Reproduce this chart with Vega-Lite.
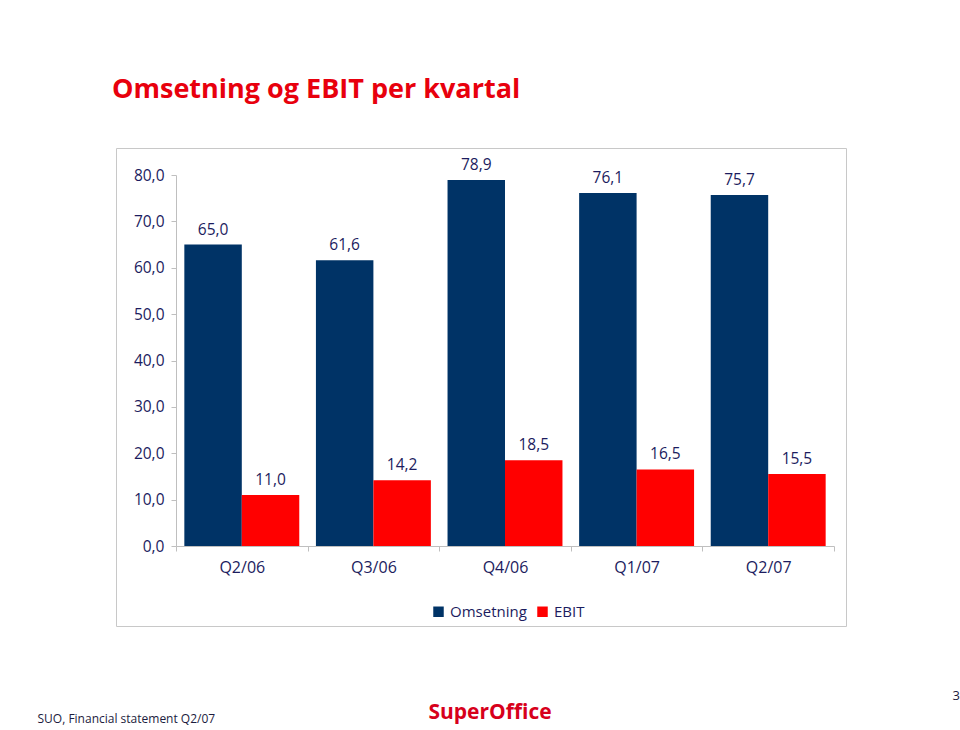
{
  "$schema": "https://vega.github.io/schema/vega-lite/v6.json",
  "width": 730,
  "height": 478,
  "autosize": {"type": "none"},
  "padding": {"left": 116, "top": 148, "right": 114, "bottom": 104},
  "background": "white",
  "config": {
    "font": "Open Sans",
    "view": {"stroke": "#C8C8C8", "strokeWidth": 1},
    "locale": {"number": {"decimal": ",", "thousands": " ", "grouping": [3], "currency": ["", " kr"]}}
  },
  "title": {
    "text": "Omsetning og EBIT per kvartal",
    "anchor": "start",
    "frame": "group",
    "font": "Open Sans",
    "fontSize": 27,
    "fontWeight": "bold",
    "color": "#E8000D",
    "dx": -4,
    "offset": 44
  },
  "data": {
    "values": [
      {"kvartal": "Q2/06", "serie": "Omsetning", "verdi": 65.0},
      {"kvartal": "Q2/06", "serie": "EBIT", "verdi": 11.0},
      {"kvartal": "Q3/06", "serie": "Omsetning", "verdi": 61.6},
      {"kvartal": "Q3/06", "serie": "EBIT", "verdi": 14.2},
      {"kvartal": "Q4/06", "serie": "Omsetning", "verdi": 78.9},
      {"kvartal": "Q4/06", "serie": "EBIT", "verdi": 18.5},
      {"kvartal": "Q1/07", "serie": "Omsetning", "verdi": 76.1},
      {"kvartal": "Q1/07", "serie": "EBIT", "verdi": 16.5},
      {"kvartal": "Q2/07", "serie": "Omsetning", "verdi": 75.7},
      {"kvartal": "Q2/07", "serie": "EBIT", "verdi": 15.5}
    ]
  },
  "layer": [
    {
      "mark": {"type": "bar"},
      "encoding": {
        "x": {
          "field": "kvartal",
          "type": "nominal",
          "sort": null,
          "scale": {"range": [60, 718], "paddingInner": 0, "paddingOuter": 0},
          "axis": {
            "offset": -80,
            "tickBand": "extent",
            "labelAngle": 0,
            "labelFontSize": 16,
            "labelColor": "#1C1C5E",
            "labelPadding": 8,
            "domainColor": "#BFBFBF",
            "tickColor": "#BFBFBF",
            "tickSize": 5,
            "title": "SUO, Financial statement Q2/07",
            "titleX": -79,
            "titleY": 176,
            "titleAlign": "left",
            "titleAnchor": null,
            "titleBaseline": "alphabetic",
            "titleFontSize": 12,
            "titleFontWeight": "normal",
            "titleColor": "#1C1C3E"
          }
        },
        "xOffset": {
          "field": "serie",
          "sort": ["Omsetning", "EBIT"],
          "scale": {"paddingOuter": 0.145, "paddingInner": 0}
        },
        "y": {
          "field": "verdi",
          "type": "quantitative",
          "scale": {"domain": [0, 80], "range": [398, 27], "nice": false, "zero": true},
          "axis": {
            "values": [0, 10, 20, 30, 40, 50, 60, 70, 80],
            "format": ".1f",
            "grid": false,
            "offset": -60,
            "domainColor": "#BFBFBF",
            "tickColor": "#BFBFBF",
            "tickSize": 5,
            "labelFontSize": 15.5,
            "labelColor": "#1C1C5E",
            "labelPadding": 7,
            "title": "3",
            "titleAngle": 0,
            "titleX": 776,
            "titleY": 551,
            "titleAlign": "left",
            "titleBaseline": "alphabetic",
            "titleFontSize": 13,
            "titleFontWeight": "normal",
            "titleColor": "#1C1C3E"
          }
        },
        "color": {
          "field": "serie",
          "type": "nominal",
          "scale": {"domain": ["Omsetning", "EBIT"], "range": ["#003366", "#FF0000"]},
          "legend": {
            "orient": "none",
            "legendX": 315,
            "legendY": 456,
            "direction": "horizontal",
            "title": null,
            "symbolType": "square",
            "symbolSize": 110,
            "symbolStrokeWidth": 0,
            "labelFontSize": 15,
            "labelColor": "#1C1C5E",
            "labelOffset": 4,
            "columnPadding": 8
          }
        }
      }
    },
    {
      "mark": {"type": "text", "baseline": "alphabetic", "dy": -10, "fontSize": 15.5, "color": "#1C1C5E"},
      "encoding": {
        "x": {"field": "kvartal", "type": "nominal", "sort": null},
        "xOffset": {"field": "serie", "sort": ["Omsetning", "EBIT"]},
        "y": {"field": "verdi", "type": "quantitative"},
        "text": {"field": "verdi", "type": "quantitative", "format": ".1f"}
      }
    },
    {
      "data": {"values": [{"merke": "SuperOffice"}]},
      "mark": {"type": "text", "baseline": "alphabetic", "dx": -15, "fontSize": 21, "fontWeight": "bold", "color": "#D7001B"},
      "encoding": {
        "x": {"datum": "Q4/06"},
        "y": {"datum": -37.3},
        "text": {"field": "merke"}
      }
    }
  ]
}
